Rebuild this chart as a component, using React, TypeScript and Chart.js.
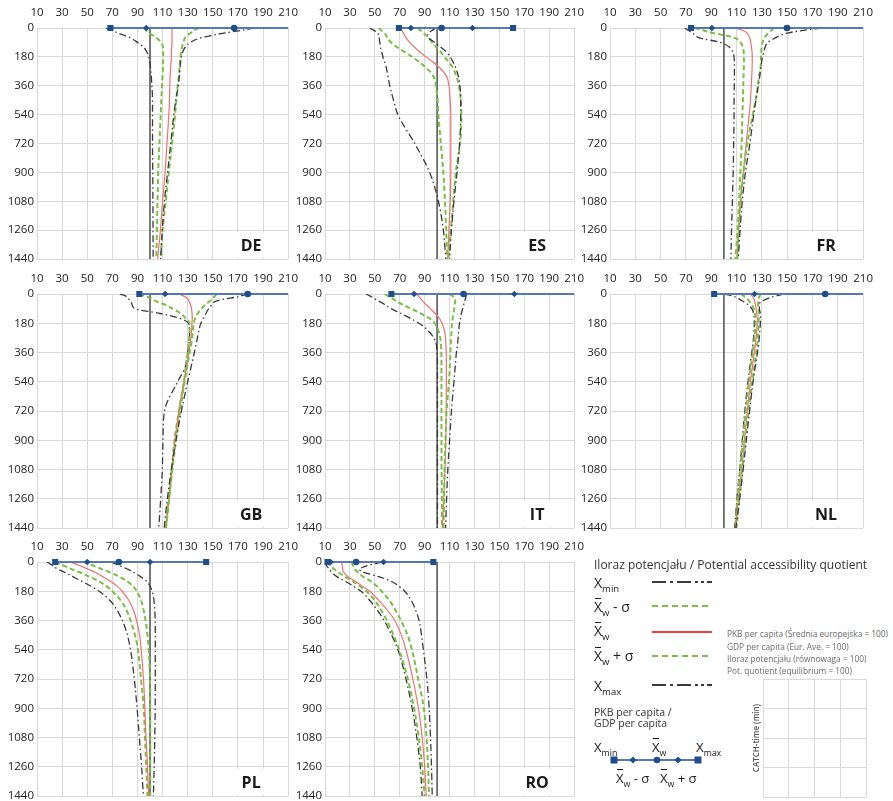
import React, { useEffect, useRef } from 'react';
import { Chart, registerables } from 'chart.js';

Chart.register(...registerables);

// ---------------- data ----------------
const TIMES = [0, 10, 20, 30, 45, 60, 90, 120, 150, 180, 240, 300, 360, 450, 540, 720, 900, 1080, 1260, 1440];
const X_TICKS = [10, 30, 50, 70, 90, 110, 130, 150, 170, 190, 210];
const Y_TICKS = [0, 180, 360, 540, 720, 900, 1080, 1260, 1440];
const EQUILIBRIUM = [100, 100];
const EQ_TIMES = [0, 1440];

const DE_MIN = [65, 68, 71, 74, 79, 84, 90, 95, 97.5, 99, 100.3, 101, 101.5, 102, 102, 102, 102.2, 102.3, 102.4, 102.5];
const DE_LO = [95, 96.5, 97.5, 99, 102, 105, 109, 110.3, 110.5, 110.5, 110.3, 110, 109.5, 109, 108.5, 107.5, 106.5, 106, 105.5, 105];
const DE_AVG = [117, 117.5, 117.5, 117.5, 117.5, 117.5, 117.5, 117.3, 117, 117, 116.5, 116, 115.8, 115.5, 115, 113.5, 112, 110, 108.3, 106];
const DE_HI = [139, 136, 134, 132.5, 130, 128, 126.5, 125.5, 124.8, 124.3, 123.5, 123, 122, 121, 120, 117.5, 115, 112.5, 110, 108.5];
const DE_MAX = [183, 176, 169, 160, 150, 141, 132, 128, 126, 125, 124, 123.3, 122.5, 120.5, 119, 116.5, 114, 111.5, 109.8, 108.5];
const DE_GDP = [68.5, 97, 167, 237, 280];

const ES_MIN = [46, 48, 50.5, 52.5, 53, 53.5, 54, 54.5, 55.5, 56.5, 59, 60.5, 62, 65, 68.5, 82, 94, 101, 105, 107];
const ES_LO = [53, 54.5, 56, 57.5, 59, 60, 63, 68, 74, 80, 90, 97, 99, 100.4, 101, 103, 105, 106.3, 107.3, 108];
const ES_AVG = [70, 71, 72, 73, 74, 75, 78, 82, 86, 91, 101, 107.5, 109.5, 110.5, 111, 111, 111, 110.5, 109.5, 108.5];
const ES_HI = [84.5, 86, 87.5, 89, 91, 93, 96, 99.5, 103, 106, 112, 115.5, 117.5, 119, 119.5, 118.5, 115, 113, 111, 109];
const ES_MAX = [99, 97, 95, 93.5, 92.5, 93, 98, 103, 107.5, 110.5, 114.5, 117, 118.3, 119, 119, 118, 116, 113.5, 111.5, 110];
const ES_GDP = [69.3, 79, 103.6, 128.4, 161];

const FR_MIN = [69, 71, 73, 75, 77.5, 80, 97, 104.5, 107, 108, 108.3, 108.3, 108.2, 108, 108, 107.7, 107.3, 106.7, 106, 105.5];
const FR_LO = [77, 82, 86, 90.5, 100, 108, 113, 115, 115.6, 115.8, 115.7, 115.5, 115.3, 115, 114.6, 114, 113, 112, 110.8, 109];
const FR_AVG = [108, 113, 116.5, 118, 119.5, 120.3, 121.2, 121.8, 122.2, 122.4, 122.3, 122, 121.6, 121, 120, 117.6, 115.3, 113, 111.7, 110.6];
const FR_HI = [139.5, 138, 137, 135.5, 133.5, 132, 130.5, 129.8, 129.5, 129.3, 129, 127.8, 126.8, 125, 122.8, 118.5, 115.5, 113.3, 111.8, 110.6];
const FR_MAX = [177, 167, 158, 151, 145, 141, 134.5, 132.5, 131.5, 130.5, 129.3, 128.3, 127.2, 125.3, 123.5, 120.5, 117, 114.5, 112.8, 111.4];
const FR_GDP = [74, 90.5, 149.8, 215, 260];

const GB_MIN = [76, 80, 82, 83, 84.5, 85.5, 88, 108, 124, 130.5, 131.5, 131, 130, 128, 122, 111.5, 110.3, 109.8, 108.5, 107];
const GB_LO = [91.5, 95, 98.5, 101.5, 105, 110, 118, 124.5, 128.5, 131.5, 131.5, 130.8, 130, 128.5, 127, 123, 119.5, 117.3, 115, 112.6];
const GB_AVG = [122, 126, 128.5, 130, 131, 132, 133, 133.5, 133.6, 133.4, 133, 132, 131, 129, 127, 123, 119.8, 117.3, 115, 112.6];
const GB_HI = [153, 152, 150.5, 149.5, 147.5, 145, 141, 138, 136, 134.8, 134, 133, 131.5, 129.5, 127.5, 124, 120.7, 117.8, 115.3, 112.8];
const GB_MAX = [178, 173, 168, 160, 152, 150, 146.8, 144.5, 142.5, 140.5, 138.5, 137, 135.3, 132.7, 130, 125, 120.7, 117, 113.8, 111.3];
const GB_GDP = [91.5, 112, 177.8, 243, 280];

const IT_MIN = [43, 45.5, 48, 50, 53.5, 57, 63, 71, 78.5, 85.5, 94.5, 99, 100, 100.3, 100.3, 100.3, 100.3, 100.3, 100.3, 100.3];
const IT_LO = [58, 60, 62.5, 64.5, 67.5, 71, 79, 87, 94, 98, 101.7, 103, 103.4, 103.5, 103.5, 103.5, 103.5, 103.6, 103.8, 104];
const IT_AVG = [83, 84.5, 86, 87, 88.7, 90.5, 94.5, 98.5, 101.8, 104, 106.3, 107, 107.3, 107.4, 107.4, 107.3, 107, 106.3, 105.3, 104.2];
const IT_HI = [110, 112, 113.5, 114.3, 114.5, 114.3, 113.7, 113, 112.5, 112, 111.5, 111, 110.7, 110.2, 109.5, 107.6, 106.7, 106, 105.6, 105.2];
const IT_MAX = [123.5, 123.3, 123, 122.6, 122, 121.5, 120.5, 119.5, 118.8, 118, 117.2, 116.5, 115.5, 114.5, 113.5, 111.5, 110, 108.6, 107.6, 106.8];
const IT_GDP = [63.3, 81.5, 121.2, 162, 240];

const NL_MIN = [100.5, 106, 109.5, 112, 115, 118, 122, 123.5, 124, 124, 123.7, 123, 122, 120.5, 119, 116.5, 114.5, 112.5, 110.3, 108.5];
const NL_LO = [113.5, 115.5, 117, 118.5, 120, 121.5, 123.5, 124.5, 125, 125, 124.5, 123.7, 122.8, 121.2, 119.8, 117.2, 115, 112.8, 110.7, 109];
const NL_AVG = [121, 122, 123, 123.7, 124.3, 124.8, 125.5, 126, 126.3, 126.3, 125.8, 125, 124, 122.5, 121, 118.5, 116.2, 114, 111.5, 109.3];
const NL_HI = [129, 128.3, 127.8, 127.3, 127, 127, 127.3, 127.6, 127.6, 127.4, 127, 126.5, 125.5, 124, 122.4, 119.5, 117, 114.6, 112.2, 109.9];
const NL_MAX = [147, 142, 137.5, 134, 130, 128, 128, 128.8, 129, 128.8, 128.3, 127.5, 126.5, 124.7, 123, 120.3, 117.7, 115.2, 112.5, 109.5];
const NL_GDP = [92.3, 124.2, 180, 236, 260];

const PL_MIN = [18, 20, 22, 23.5, 27, 31, 38.5, 46, 53.3, 59.5, 68.5, 74, 78, 82, 84.5, 87.5, 89.7, 91.5, 93.3, 94.7];
const PL_LO = [24.5, 27.5, 30.5, 33.5, 38, 43, 51.5, 59.5, 65.5, 70, 77, 81.5, 84.5, 88, 90.4, 92.8, 95, 96, 97, 98];
const PL_AVG = [36, 40, 43.5, 46.5, 51, 55.5, 62.3, 68.8, 74, 77.8, 83.5, 87, 89.3, 91.7, 93, 94.8, 95.9, 96.8, 98, 98.9];
const PL_HI = [47, 50.5, 54, 57, 62, 67, 75.5, 82, 86.5, 89.5, 93, 95, 96.5, 98, 99, 100, 100.2, 100.2, 100.2, 100.2];
const PL_MAX = [69, 72, 75, 78, 82.5, 86.5, 92.5, 97.5, 100, 101.7, 103.2, 103.8, 104.1, 104.2, 104.2, 104.2, 104.1, 103.8, 103.3, 102.7];
const PL_GDP = [24.5, 50, 75.2, 100, 144.7];

const RO_MIN = [10, 10.5, 11, 12, 13.5, 15, 19.5, 26.5, 33, 39, 46.3, 52.3, 57.5, 63.5, 68.6, 75, 80, 83.7, 86.5, 88];
const RO_LO = [11.3, 12.5, 14, 15.3, 17.5, 20, 26, 32.5, 38.3, 43.3, 50.3, 55.3, 59.6, 65, 69.5, 76.5, 81.5, 85.3, 88, 90];
const RO_AVG = [23.3, 23.5, 23.7, 24, 24.3, 24.7, 28.5, 34.5, 40.3, 46, 53.5, 60.5, 66, 71.3, 75, 80.5, 85, 88, 90, 91.3];
const RO_HI = [31.3, 31.8, 32.3, 32.8, 34, 36, 40.5, 47, 51.8, 55.5, 62, 66.8, 71, 76.3, 79.8, 84.8, 89.3, 91.5, 92.7, 93.5];
const RO_MAX = [55.5, 50, 45, 41, 37.5, 40, 53, 63.5, 69.5, 74, 79.5, 83, 85.5, 87.5, 89, 91.8, 93.6, 94.7, 95.5, 96.1];
const RO_GDP = [12, 14.5, 35, 57, 97];

const COUNTRIES = [
  { code: 'DE', min: DE_MIN, lo: DE_LO, avg: DE_AVG, hi: DE_HI, max: DE_MAX, gdp: DE_GDP },
  { code: 'ES', min: ES_MIN, lo: ES_LO, avg: ES_AVG, hi: ES_HI, max: ES_MAX, gdp: ES_GDP },
  { code: 'FR', min: FR_MIN, lo: FR_LO, avg: FR_AVG, hi: FR_HI, max: FR_MAX, gdp: FR_GDP },
  { code: 'GB', min: GB_MIN, lo: GB_LO, avg: GB_AVG, hi: GB_HI, max: GB_MAX, gdp: GB_GDP },
  { code: 'IT', min: IT_MIN, lo: IT_LO, avg: IT_AVG, hi: IT_HI, max: IT_MAX, gdp: IT_GDP },
  { code: 'NL', min: NL_MIN, lo: NL_LO, avg: NL_AVG, hi: NL_HI, max: NL_MAX, gdp: NL_GDP },
  { code: 'PL', min: PL_MIN, lo: PL_LO, avg: PL_AVG, hi: PL_HI, max: PL_MAX, gdp: PL_GDP },
  { code: 'RO', min: RO_MIN, lo: RO_LO, avg: RO_AVG, hi: RO_HI, max: RO_MAX, gdp: RO_GDP },
];

// ---------------- layout / style ----------------
const FONT = '"Open Sans", "Noto Sans", sans-serif';
const COL_LEFT = [37, 325, 610];
const COL_W = [253, 251, 255];
const ROW_TOP = [28, 294, 562];
const ROW_H = [231, 234, 234];

const C_DASHDOT = '#3a3a3a';
const C_GREEN = '#78c043';
const C_RED = '#f07070';
const C_BLUE = '#5677b8';
const C_NAVY = '#1f4e8c';
const C_GRID = '#d9d9d9';

const countryLabel = {
  id: 'countryLabel',
  beforeDatasetsDraw(chart: any, _args: any, opts: any) {
    const { ctx, chartArea: a, scales } = chart;
    const yTop = scales.y.getPixelForValue(1260) + 2;
    ctx.save();
    ctx.fillStyle = '#ffffff';
    ctx.fillRect(a.right - 57, yTop, 56, a.bottom - yTop - 1);
    ctx.fillStyle = '#1a1a1a';
    ctx.font = 'bold 16px ' + FONT;
    ctx.textAlign = 'center';
    ctx.textBaseline = 'middle';
    ctx.fillText(opts.text, a.right - 37, a.bottom - 13);
    ctx.restore();
  },
};

function Panel({ c, row, col }: any) {
  const ref = useRef<HTMLCanvasElement>(null);
  const plotL = COL_LEFT[col];
  const plotT = ROW_TOP[row];
  const plotW = COL_W[col];
  const plotH = ROW_H[row];
  const AXW = Math.min(40, plotL);
  const AXH = 28;
  const PR = 16;
  const PB = 10;

  useEffect(() => {
    const pts = (vals: number[]) => vals.map((x, i) => ({ x, y: TIMES[i] }));
    const curve = (vals: number[], kind: string) => ({
      data: pts(vals),
      borderColor: kind === 'dd' ? C_DASHDOT : kind === 'g' ? C_GREEN : C_RED,
      borderWidth: kind === 'dd' ? 1.3 : kind === 'g' ? 2 : 1.2,
      borderDash: kind === 'dd' ? [7, 3, 1.5, 3] : kind === 'g' ? [5, 3] : [],
      pointRadius: 0,
      pointHitRadius: 0,
      cubicInterpolationMode: 'monotone',
      fill: false,
    });
    const chart = new Chart(ref.current as HTMLCanvasElement, {
      type: 'line',
      data: {
        datasets: [
          {
            data: c.gdp.map((x: number) => ({ x, y: 0 })),
            borderColor: C_BLUE,
            borderWidth: 2,
            pointStyle: ['rect', 'rectRot', 'circle', 'rectRot', 'rect'],
            pointRadius: [4.3, 3.2, 3.3, 3.2, 4.3],
            pointBackgroundColor: C_NAVY,
            pointBorderColor: C_NAVY,
            pointBorderWidth: 0,
            tension: 0,
            cubicInterpolationMode: 'default',
            clip: { left: 10, top: 10, right: 0, bottom: 10 },
          },
          curve(c.max, 'dd'),
          curve(c.hi, 'g'),
          curve(c.avg, 'r'),
          curve(c.lo, 'g'),
          curve(c.min, 'dd'),
          {
            data: EQUILIBRIUM.map((x, i) => ({ x, y: EQ_TIMES[i] })),
            borderColor: '#4d4d4d',
            borderWidth: 1.5,
            pointRadius: 0,
            tension: 0,
            cubicInterpolationMode: 'default',
          },
        ],
      } as any,
      options: {
        indexAxis: 'y',
        responsive: false,
        maintainAspectRatio: false,
        animation: false,
        events: [],
        layout: { padding: { left: 0, top: 0, right: PR, bottom: PB } },
        plugins: {
          legend: { display: false },
          tooltip: { enabled: false },
          countryLabel: { text: c.code },
        } as any,
        scales: {
          x: {
            type: 'linear',
            position: 'top',
            min: 10,
            max: 210,
            afterBuildTicks: (s: any) => { s.ticks = X_TICKS.map((v) => ({ value: v })); },
            afterFit: (s: any) => { s.height = AXH; },
            grid: { color: C_GRID, lineWidth: 1, drawTicks: false },
            border: { display: false },
            ticks: {
              padding: 8,
              autoSkip: false,
              maxRotation: 0,
              color: '#222',
              font: { family: FONT, size: 11.5 },
              callback: (v: any) => String(v),
            },
          },
          y: {
            type: 'linear',
            reverse: true,
            min: 0,
            max: 1440,
            afterBuildTicks: (s: any) => { s.ticks = Y_TICKS.map((v) => ({ value: v })); },
            afterFit: (s: any) => { s.width = AXW; },
            grid: { color: C_GRID, lineWidth: 1, drawTicks: false },
            border: { display: false },
            ticks: {
              padding: 3,
              autoSkip: false,
              color: '#222',
              font: { family: FONT, size: 11.5 },
              callback: (v: any) => String(v),
            },
          },
        } as any,
      } as any,
      plugins: [countryLabel as any],
    });
    return () => chart.destroy();
  }, []);

  return (
    <canvas
      ref={ref}
      width={AXW + plotW + PR}
      height={AXH + plotH + PB}
      style={{ position: 'absolute', left: plotL - AXW, top: plotT - AXH }}
    />
  );
}

function LegendGrid() {
  const ref = useRef<HTMLCanvasElement>(null);
  useEffect(() => {
    const ticks = [0, 1, 2, 3, 4];
    const chart = new Chart(ref.current as HTMLCanvasElement, {
      type: 'line',
      data: { datasets: [] },
      options: {
        responsive: false,
        maintainAspectRatio: false,
        animation: false,
        events: [],
        layout: { padding: { left: 0, top: 4, right: 4, bottom: 4 } },
        plugins: { legend: { display: false }, tooltip: { enabled: false } },
        scales: {
          x: {
            type: 'linear', min: 0, max: 4,
            afterBuildTicks: (s: any) => { s.ticks = ticks.map((v) => ({ value: v })); },
            afterFit: (s: any) => { s.height = 0; },
            grid: { color: C_GRID, drawTicks: false },
            border: { display: false },
            ticks: { display: false },
          },
          y: {
            type: 'linear', min: 0, max: 4,
            afterBuildTicks: (s: any) => { s.ticks = ticks.map((v) => ({ value: v })); },
            afterFit: (s: any) => { s.width = 18; },
            grid: { color: C_GRID, drawTicks: false },
            border: { display: false },
            ticks: { display: false },
            title: {
              display: true,
              text: 'CATCH-time (min)',
              color: '#555',
              font: { family: FONT, size: 8, weight: '600' },
              padding: { top: 6.5, bottom: 0 },
            },
          },
        } as any,
      } as any,
    });
    return () => chart.destroy();
  }, []);
  return <canvas ref={ref} width={125} height={126} style={{ position: 'absolute', left: 745, top: 675 }} />;
}

function Sym({ bar, sub, tail, size = 14 }: any) {
  return (
    <span style={{ fontFamily: FONT, fontSize: size, color: '#1a1a1a' }}>
      <span style={{ position: 'relative', display: 'inline-block' }}>
        X
        {bar && (
          <span style={{ position: 'absolute', left: 1, right: 1, top: 2, height: 1.3, background: '#1a1a1a' }} />
        )}
      </span>
      <span style={{ fontSize: size * 0.68, position: 'relative', top: 4 }}>{sub}</span>
      {tail}
    </span>
  );
}

const abs = (left: number, cy: number, h = 22): any => ({
  position: 'absolute',
  left,
  top: cy - h / 2,
  height: h,
  lineHeight: h + 'px',
  whiteSpace: 'nowrap',
});

function Legend() {
  const small: any = { fontFamily: FONT, fontSize: 8.3, color: '#6b6b6b' };
  return (
    <>
      <div style={{ ...abs(594, 565), fontFamily: FONT, fontSize: 12, color: '#333' }}>
        Iloraz potencjału / Potential accessibility quotient
      </div>
      <div style={abs(594, 583)}><Sym sub="min" /></div>
      <div style={abs(594, 607)}><Sym bar sub="w" tail=" - σ" /></div>
      <div style={abs(594, 631)}><Sym bar sub="w" /></div>
      <div style={abs(594, 656)}><Sym bar sub="w" tail=" + σ" /></div>
      <div style={abs(594, 686)}><Sym sub="max" /></div>

      <div style={{ ...abs(727, 634, 12), ...small }}>PKB per capita (Średnia europejska = 100)</div>
      <div style={{ ...abs(727, 647, 12), ...small }}>GDP per capita (Eur. Ave. = 100)</div>
      <div style={{ ...abs(727, 659, 12), ...small }}>Iloraz potencjału (równowaga = 100)</div>
      <div style={{ ...abs(727, 671, 12), ...small }}>Pot. quotient (equilibrium = 100)</div>

      <div style={{ ...abs(594, 712, 14), fontFamily: FONT, fontSize: 10.5, color: '#333' }}>PKB per capita /</div>
      <div style={{ ...abs(594, 723, 14), fontFamily: FONT, fontSize: 10.5, color: '#333' }}>GDP per capita</div>

      <div style={abs(594, 747)}><Sym sub="min" size={13} /></div>
      <div style={abs(652, 747)}><Sym bar sub="w" size={13} /></div>
      <div style={abs(696, 747)}><Sym sub="max" size={13} /></div>
      <div style={abs(616, 778)}><Sym bar sub="w" tail=" - σ" size={13} /></div>
      <div style={abs(660, 778)}><Sym bar sub="w" tail=" + σ" size={13} /></div>

      <svg width={893} height={801} style={{ position: 'absolute', left: 0, top: 0, pointerEvents: 'none' }}>
        <line x1={652} x2={712} y1={582} y2={582} stroke={C_DASHDOT} strokeWidth={2} strokeDasharray="14 4 3 4 14 4 3 3 3 3" />
        <line x1={652} x2={712} y1={606} y2={606} stroke={C_GREEN} strokeWidth={2} strokeDasharray="6 4" />
        <line x1={652} x2={712} y1={632} y2={632} stroke="#e9403a" strokeWidth={2} />
        <line x1={652} x2={712} y1={656} y2={656} stroke={C_GREEN} strokeWidth={2} strokeDasharray="6 4" />
        <line x1={652} x2={712} y1={685} y2={685} stroke={C_DASHDOT} strokeWidth={2} strokeDasharray="14 4 3 4 14 4 3 3 3 3" />
        <line x1={614} x2={698} y1={760} y2={760} stroke={C_BLUE} strokeWidth={2} />
        <rect x={610.5} y={756.5} width={7} height={7} fill={C_NAVY} />
        <rect x={630.5} y={757.5} width={5} height={5} fill={C_NAVY} transform="rotate(45 633 760)" />
        <circle cx={657} cy={760} r={3.3} fill={C_NAVY} />
        <rect x={675.5} y={757.5} width={5} height={5} fill={C_NAVY} transform="rotate(45 678 760)" />
        <rect x={694.5} y={756.5} width={7} height={7} fill={C_NAVY} />
      </svg>
    </>
  );
}

export default function App() {
  return (
    <div style={{ position: 'fixed', left: 0, top: 0, width: 893, height: 801, background: '#ffffff', overflow: 'hidden' }}>
      {COUNTRIES.map((c, i) => (
        <Panel key={c.code} c={c} row={Math.floor(i / 3)} col={i % 3} />
      ))}
      <LegendGrid />
      <Legend />
    </div>
  );
}
